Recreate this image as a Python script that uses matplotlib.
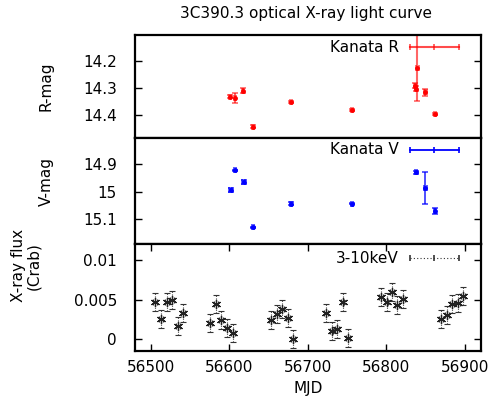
import matplotlib
matplotlib.use("Agg")
import matplotlib.pyplot as plt
import numpy as np

plt.rcParams['font.family'] = ['DejaVu Sans']

# Kanata R-band photometry
r_mjd = [56600.8, 56607.2, 56617.8, 56630.5, 56678.4, 56756.3, 56836.6, 56837.6, 56839.5, 56849.6, 56862.2]
r_mag = [14.332, 14.337, 14.310, 14.443, 14.353, 14.381, 14.292, 14.303, 14.225, 14.317, 14.396]
r_err = [0.004, 0.018, 0.008, 0.005, 0.004, 0.004, 0.009, 0.009, 0.125, 0.013, 0.004]

# Kanata V-band photometry
v_mjd = [56601.7, 56607.2, 56618.2, 56630.5, 56678.4, 56756.3, 56837.3, 56849.6, 56861.9]
v_mag = [14.994, 14.923, 14.965, 15.130, 15.043, 15.043, 14.930, 14.985, 15.070]
v_err = [0.007, 0.003, 0.006, 0.003, 0.007, 0.003, 0.006, 0.058, 0.010]

# X-ray 3-10 keV flux (Crab units)
x_mjd = [56505.8, 56513.5, 56520.3, 56527.5, 56534.3, 56540.7,
         56575.8, 56583.0, 56589.8, 56597.4, 56604.3,
         56653.0, 56660.2, 56667.3, 56674.2, 56680.5,
         56722.9, 56730.1, 56737.3, 56744.1, 56751.2,
         56792.8, 56800.1, 56807.2, 56814.0, 56821.2,
         56870.0, 56877.1, 56884.0, 56891.1, 56898.0]
x_flux = [0.00476, 0.00252, 0.00476, 0.00498, 0.00170, 0.00336,
          0.00208, 0.00443, 0.00243, 0.00144, 0.00080,
          0.00243, 0.00315, 0.00383, 0.00272, 0.00000,
          0.00336, 0.00102, 0.00132, 0.00476, 0.00017,
          0.00540, 0.00476, 0.00604, 0.00434, 0.00511,
          0.00255, 0.00307, 0.00443, 0.00464, 0.00549]
x_err = [0.00115] * len(x_mjd)

r_ticks = [14.2, 14.3, 14.4]
r_ticklabels = ["14.2", "14.3", "14.4"]
v_ticks = [14.9, 15.0, 15.1]
v_ticklabels = ["14.9", "15", "15.1"]
x_ticks = [0.0, 0.005, 0.01]
x_ticklabels = ["0", "0.005", "0.01"]
mjd_ticks = [56500, 56600, 56700, 56800, 56900]

fig = plt.figure(figsize=(4.94, 4.01), dpi=100)
left, width = 0.2733, 0.6998
ax_r = fig.add_axes([left, 0.6559, width, 0.2568])
ax_v = fig.add_axes([left, 0.3915, width, 0.2644])
ax_x = fig.add_axes([left, 0.1254, width, 0.2661])

fs = 11

for ax in (ax_r, ax_v, ax_x):
    ax.set_xlim(56480, 56920)
    for s in ax.spines.values():
        s.set_linewidth(1.6)
    ax.tick_params(axis='y', direction='in', left=True, right=True, length=5,
                   width=1.0, labelsize=fs, pad=13)

for ax in (ax_r, ax_v):
    ax.set_xticks([])

ax_x.set_xticks(mjd_ticks)
ax_x.set_xticklabels([str(t) for t in mjd_ticks])
ax_x.tick_params(axis='x', direction='in', top=True, bottom=True, length=5,
                 width=1.0, labelsize=fs, pad=7)

# R band
ax_r.errorbar(r_mjd, r_mag, yerr=r_err, xerr=1.5, fmt='o', ms=2.5, color='red',
              ecolor=(1, 0, 0, 0.6), elinewidth=1.5, capsize=2.5, capthick=1.2)
ax_r.set_ylim(14.485, 14.105)
ax_r.set_yticks(r_ticks)
ax_r.set_yticklabels(r_ticklabels)

# V band
ax_v.errorbar(v_mjd, v_mag, yerr=v_err, xerr=1.5, fmt='o', ms=2.5, color='blue',
              ecolor=(0, 0, 1, 0.75), elinewidth=1.3, capsize=2.5, capthick=1.2)
ax_v.set_ylim(15.19, 14.805)
ax_v.set_yticks(v_ticks)
ax_v.set_yticklabels(v_ticklabels)

# X-ray
eb = ax_x.errorbar(x_mjd, x_flux, yerr=x_err, xerr=2.5, fmt='none', ecolor='#333333',
                   elinewidth=0.8, capsize=2.0, capthick=0.8)
for line in eb[2]:
    line.set_linestyle((0, (1, 1.5)))
ax_x.plot(x_mjd, x_flux, linestyle='none', marker=(6, 2, 0), ms=6.5, mew=0.9, color='#222222')
ax_x.set_ylim(-0.0015, 0.0121)
ax_x.set_yticks(x_ticks)
ax_x.set_yticklabels(x_ticklabels)
ax_x.set_xlabel("MJD", fontsize=fs, labelpad=4)

# axis titles
fig.text(0.093, 0.784, "R-mag", rotation=90, ha='center', va='center', fontsize=fs)
fig.text(0.093, 0.547, "V-mag", rotation=90, ha='center', va='center', fontsize=fs)
fig.text(0.053, 0.337, "X-ray flux\n(Crab)", rotation=90, ha='center', va='center',
         fontsize=fs, linespacing=1.0, multialignment='center')

# key samples in gnuplot style
def key(ax, label, y, color, ls='-', lw=1.3, alpha=1.0):
    x0, x1 = 0.795, 0.937
    xm = 0.5 * (x0 + x1)
    ax.text(x0 - 0.032, y, label, transform=ax.transAxes, ha='right', va='center', fontsize=fs)
    ax.plot([x0, x1], [y, y], transform=ax.transAxes, color=color, lw=lw, ls=ls,
            alpha=alpha, clip_on=False)
    ax.plot([x0, xm, x1], [y, y, y], transform=ax.transAxes, linestyle='none', marker='|',
            ms=5, mew=1.2, color=color, alpha=alpha, clip_on=False)

key(ax_r, "Kanata R", 0.88, 'red', lw=1.5, alpha=0.7)
key(ax_v, "Kanata V", 0.887, 'blue', lw=1.3)
key(ax_x, "3-10keV", 0.866, '#333333', ls=(0, (1, 2)), lw=0.8)

fig.text(0.619, 0.966, "3C390.3 optical X-ray light curve", ha='center', va='center', fontsize=11)

fig.savefig("out.png", dpi=100)
